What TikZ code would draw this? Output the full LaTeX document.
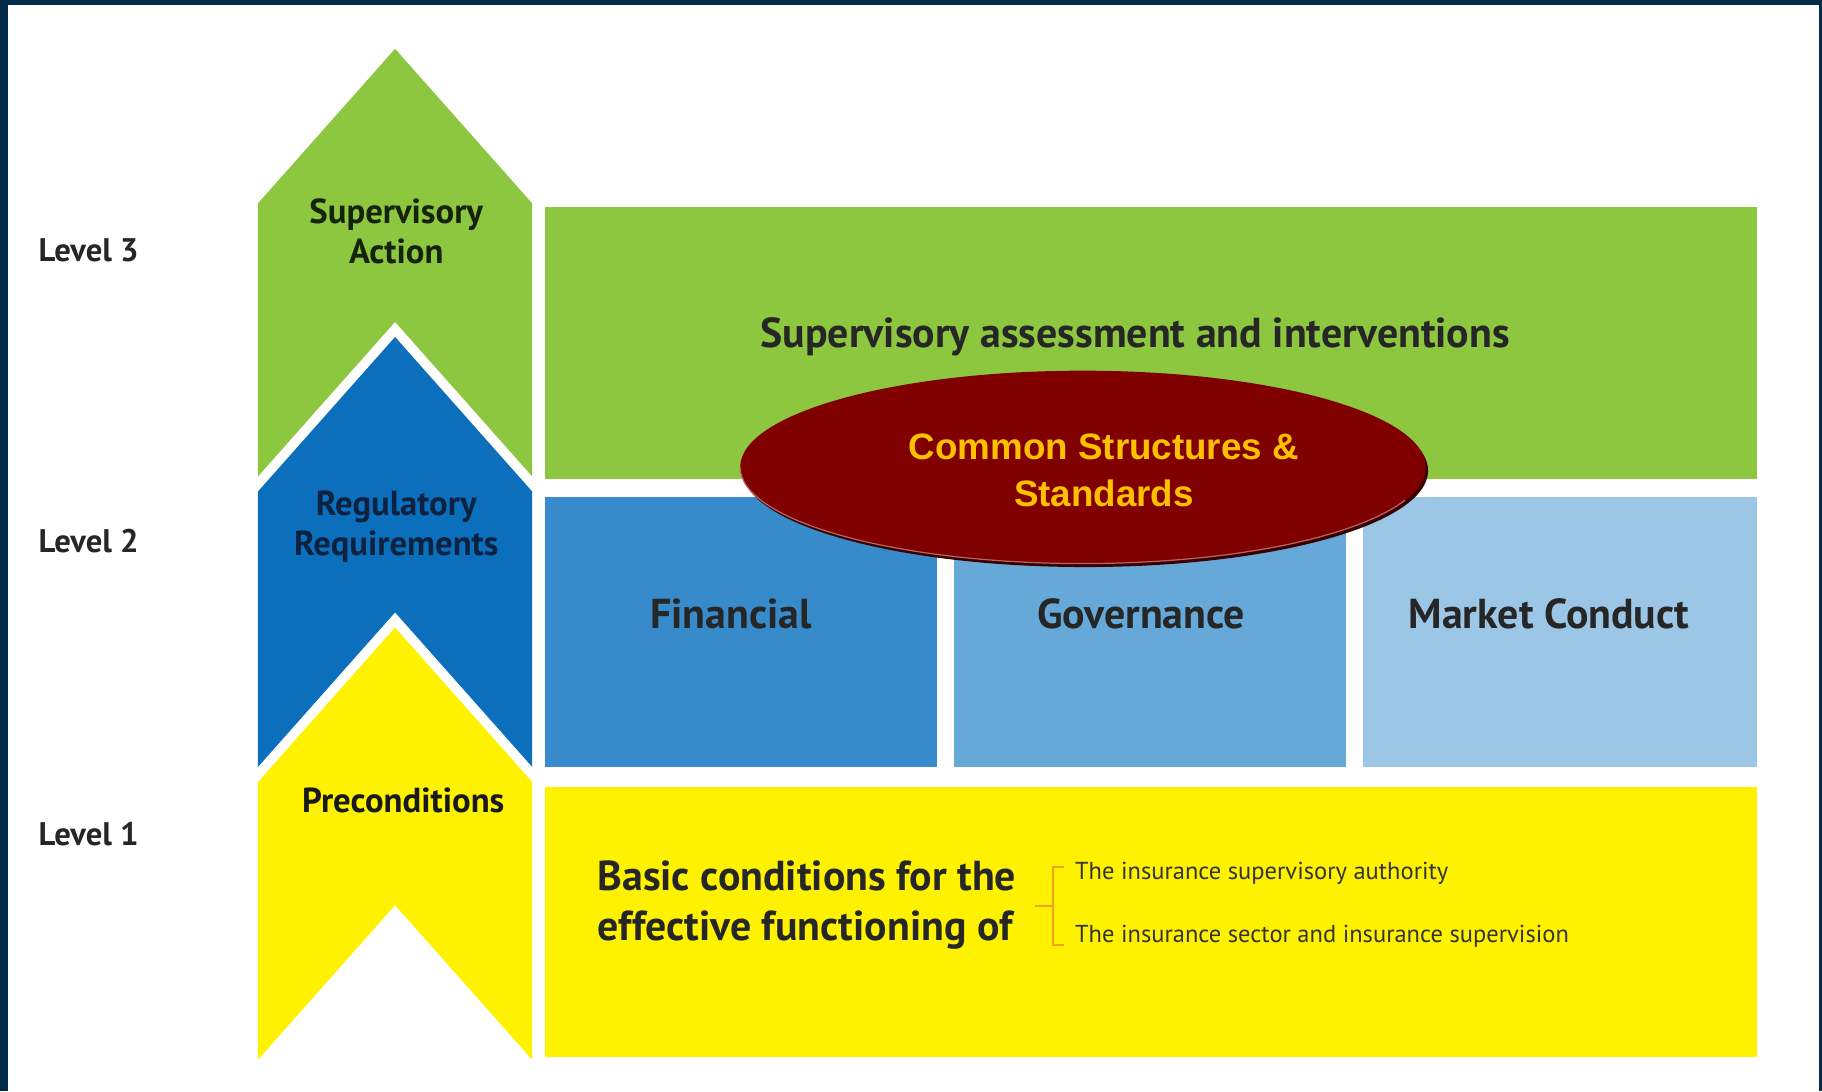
\documentclass[tikz,border=0pt]{standalone}
\usepackage{fontspec}
\setmainfont{PT Sans}
\newfontfamily\arialfont{Liberation Sans}
\usetikzlibrary{shapes.geometric}

\definecolor{navyframe}{HTML}{012B48}
\definecolor{leafgreen}{HTML}{8DC63F}
\definecolor{deepblue}{HTML}{0B6FBC}
\definecolor{midblue}{HTML}{388BCB}
\definecolor{softblue}{HTML}{66A9D8}
\definecolor{paleblue}{HTML}{9CC6E6}
\definecolor{lemon}{HTML}{FFF200}
\definecolor{darkred}{HTML}{800000}
\definecolor{gold}{HTML}{FFC000}
\definecolor{bracketorange}{HTML}{F5A01A}
\definecolor{inkgreen}{HTML}{14230A}
\definecolor{inknavy}{HTML}{0D2240}

\tikzset{
  levellabel/.style={anchor=west, font=\bfseries\fontsize{16}{18}\selectfont, text=black!85},
  arrowlabel/.style={align=center, font=\bfseries\fontsize{17}{19.5}\selectfont},
  boxlabel/.style={font=\bfseries\fontsize{20.5}{24.5}\selectfont, text=black!85},
  smalllabel/.style={anchor=west, font=\fontsize{12}{14}\selectfont, text=black!80},
}

\begin{document}
\begin{tikzpicture}[x=0.02cm, y=-0.02cm]
        \useasboundingbox (0,0) rectangle (1568,939);
        \fill[navyframe] (0,0) rectangle (1568,939);
        \fill[white] (7,4) rectangle (1565,939);
        % drawing the level arrows
        \fill[leafgreen] (222,175) -- (340,42) -- (458,175) -- (458,410) -- (340,277) -- (222,410) -- cycle;
        \fill[deepblue] (222,423) -- (340,290) -- (458,423) -- (458,660) -- (340,527) -- (222,660) -- cycle;
        \fill[lemon] (222,673) -- (340,540) -- (458,673) -- (458,912) -- (340,779) -- (222,912) -- cycle;
        \node[arrowlabel, text=inkgreen] (action) at (341,199) {Supervisory\\Action};
        \node[arrowlabel, text=inknavy] (requirements) at (341,453) {Regulatory\\Requirements};
        \node[arrowlabel, text=black!90] (preconditions) at (347,689) {Preconditions};
        % level names
        \node[levellabel] (level3) at (27,215) {Level 3};
        \node[levellabel] (level2) at (27,466) {Level 2};
        \node[levellabel] (level1) at (27,718) {Level 1};
        % drawing the boxes
        \fill[leafgreen] (469,178) rectangle (1512,412);
        \node[boxlabel] (assessment) at (977,290) {Supervisory assessment and interventions};
        \fill[midblue] (469,428) rectangle (806,660);
        \node[boxlabel] (financial) at (629,528) {Financial};
        \fill[softblue] (821,428) rectangle (1158,660);
        \node[boxlabel] (governance) at (982,528) {Governance};
        \fill[paleblue] (1173,428) rectangle (1512,660);
        \node[boxlabel] (conduct) at (1333,528) {Market Conduct};
        \fill[lemon] (469,677) rectangle (1512,910);
        \node[boxlabel, anchor=west, align=left] (basic) at (508,779) {Basic conditions for the\\effective functioning of};
        \draw[bracketorange, line width=1.1pt] (916,746) -- (906,746) -- (906,813) -- (916,813);
        \draw[bracketorange, line width=1.1pt] (891,780) -- (906,780);
        \node[smalllabel] (authority) at (919,752) {The insurance supervisory authority};
        \node[smalllabel] (sector) at (919,806) {The insurance sector and insurance supervision};
        % common structures
        \fill[black!55!darkred] (934,405) ellipse (295 and 83);
        \fill[darkred] (932,402) ellipse (295 and 83);
        \draw[darkred!60!white, line width=0.6pt] (637,402) arc (180:20:295 and 83);
        \node[align=center, text=gold, font=\arialfont\bfseries\fontsize{18}{23}\selectfont] (common) at (950,405) {Common Structures \&\\Standards};
    \end{tikzpicture}
\end{document}
